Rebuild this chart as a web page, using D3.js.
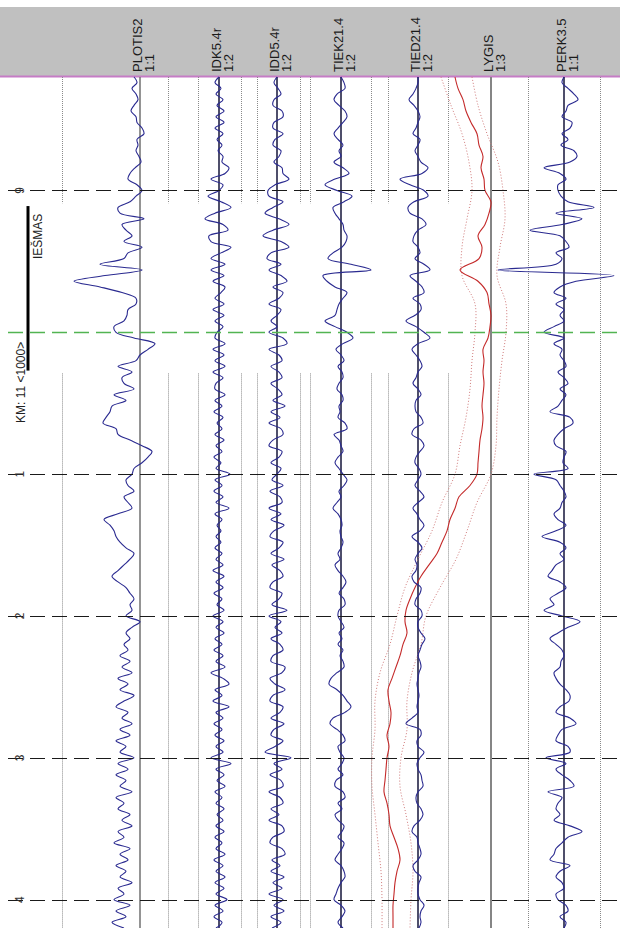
<!DOCTYPE html>
<html>
<head>
<meta charset="utf-8">
<script src="https://cdn.jsdelivr.net/npm/d3@7"></script>
<style>
  body { margin: 0; background: #fff; }
  svg { display: block; font-family: Arial, "Liberation Sans", sans-serif; }
</style>
</head>
<body>
<div class="track-chart"></div>
<script>
// channels and their scale ratios
const channels = ["PLOTIS2", "IDK5.4r", "IDD5.4r", "TIEK21.4", "TIED21.4", "LYGIS", "PERK3.5"];
const ratios = ["1:1", "1:2", "1:2", "1:2", "1:2", "1:3", "1:1"];

// distance marks (m from km 11 start)
const kmTicks = [-100, 100, 200, 300, 400];
const kmLabels = ["9", "1", "2", "3", "4"];
const kmStart = 0;
const kmTitle = "KM: 11 <1000>";
const switchName = "IEŠMAS";
const switchFrom = -89, switchTo = 27;

// samples every 4 m from -180 m
const plotis = [
  -6,-3,-8,-4,-2,-6,-9,-4,-3,2,
  4,-3,-2,-4,-1,1,-5,-10,-12,-3,
  2,-4,-10,-22,-20,4,-18,-14,-8,-16,
  2,-12,-16,-40,2,-35,-66,-40,-18,-4,
  -4,-12,-13,-16,-26,-24,-6,15,8,0,
  -4,-22,-8,-18,-16,-6,-26,-14,-28,-30,
  -34,-37,-24,-22,-10,2,12,8,2,-6,
  -8,-14,-12,-6,-16,-12,-8,-22,-36,-30,
  -26,-24,-20,-14,-6,-10,-16,-22,-28,-22,
  -14,-10,-6,-10,-8,-14,0,-8,-14,-10,
  -16,-12,-20,-10,-18,-8,-22,-12,-20,-6,
  -16,-24,-12,-18,-8,-20,-10,-24,-14,-20,
  -6,-22,-12,-24,-14,-20,-8,-24,-16,-22,
  -10,-18,-8,-22,-16,-26,-10,-20,-12,-24,
  -14,-20,-8,-22,-16,-26,-10,-24,-14,-28,
  -16
];
const idk = [
  0,-4,2,-3,4,-2,5,-3,5,-4,
  4,-2,3,-1,4,3,10,6,-8,4,
  0,-11,2,12,-4,-14,4,9,-10,-8,
  12,2,-8,6,-8,5,-6,6,2,-4,
  5,-6,5,-4,4,-2,-4,6,-6,5,
  -4,6,-6,4,-3,-4,6,-4,3,-5,
  4,-2,3,-4,5,-3,3,-5,2,-3,
  11,-4,3,-5,4,-3,10,-4,3,-2,
  2,-3,2,-4,3,-3,4,-6,5,-3,
  4,-5,3,-2,5,-6,4,-3,5,-4,
  3,-5,4,-3,6,-8,4,10,-4,3,
  -6,10,-3,4,-5,3,-4,5,-3,4,
  -8,12,-3,5,-2,6,-4,3,-3,5,
  -2,4,-3,5,-4,3,-3,6,-5,4,
  -3,6,-4,5,-3,8,-4,4,-5,3,
  -3
];
const idd = [
  0,-3,1,4,-3,-4,5,6,-3,-4,
  6,-2,-4,4,2,-3,5,6,12,-2,
  -9,-8,6,-4,-12,2,12,-4,-14,4,
  12,-6,-10,4,-8,4,10,-4,6,2,
  -8,4,0,-6,0,-8,6,10,-8,2,
  5,-6,2,5,-6,1,5,-4,8,-6,
  3,-8,4,6,-4,-8,5,2,-6,4,
  0,-5,6,-7,3,5,-8,4,-6,7,
  -3,-7,6,2,-6,7,-5,3,6,-4,
  -7,5,2,-5,10,-8,4,-2,5,-6,
  3,6,-4,-6,8,5,-7,-2,8,-4,
  -7,6,3,-6,7,-3,-6,6,-2,-12,
  14,-3,5,-7,4,6,-8,3,6,-6,
  2,-8,5,7,-4,-7,5,8,-5,3,
  -6,7,-4,5,-8,6,-3,7,-6,4,
  -5
];
const tiek = [
  0,3,4,-4,-7,-2,4,6,2,-3,
  -7,-3,2,-2,0,-7,2,8,-6,-16,
  -4,11,3,-8,-6,-2,2,3,6,5,
  1,-8,-13,10,30,-18,-14,-6,6,2,
  -2,-4,-6,-16,-6,6,12,2,-5,0,
  3,-3,1,2,-2,-4,1,2,-2,-1,
  -3,4,6,-7,-2,0,2,-3,-6,-2,
  2,6,3,-2,0,-4,-8,-3,0,1,
  -1,0,2,0,-3,-1,-6,-3,2,5,
  2,-2,3,4,-2,-3,0,3,-2,1,
  -3,2,-1,2,3,-4,-10,-12,-4,2,
  6,10,4,-8,-11,-4,2,4,-3,-1,
  3,1,-3,2,-5,-6,2,4,-3,1,
  -6,-3,3,1,-3,3,1,-3,-6,0,
  3,4,0,-3,-5,-7,0,4,1,-3,
  2
];
const tied = [
  0,0,-2,-5,-9,-4,0,2,0,-2,
  -5,2,0,-3,0,3,10,4,-18,-8,
  6,10,-4,-10,-8,4,8,0,-4,-5,
  0,2,-3,6,12,-8,-2,4,6,-5,
  2,3,-3,-12,-2,6,12,0,-6,-2,
  2,4,0,-2,-5,0,3,-2,-3,-2,
  3,5,-4,-6,3,6,2,-2,-3,1,
  3,0,-3,2,6,0,-5,-1,2,6,
  2,-6,0,4,0,-3,-1,-2,-6,-4,
  3,2,-2,-3,3,4,0,0,3,7,
  4,2,0,2,3,1,0,-1,0,1,
  0,-1,0,-6,-12,2,3,-1,0,6,
  2,-1,0,3,4,5,0,-2,-1,3,
  5,2,-4,-6,-1,0,2,3,0,-5,
  -3,3,1,0,0,2,6,3,2,3,
  1
];
const perk = [
  0,-2,4,10,14,4,2,-2,8,6,
  -2,4,-3,10,13,6,-20,-4,2,-6,
  -6,-3,4,30,-8,18,-2,-34,-4,2,
  5,-8,-2,-8,-66,50,12,-4,-10,2,
  -8,0,-4,0,-10,-20,0,-10,-2,-4,
  0,2,-6,0,4,-4,2,-2,-6,-14,
  6,9,0,-6,-10,-8,2,0,-1,4,
  -30,-8,-4,0,2,-2,-4,-10,-6,2,
  -8,-22,-4,2,-4,0,-8,-12,-16,-4,
  2,-6,-14,-10,-20,-2,16,4,-6,-14,
  -8,-2,0,-3,-4,-10,-8,-4,2,6,
  5,-4,-8,6,12,-2,-6,-8,4,6,
  -18,2,-8,-2,6,10,-16,-2,-6,-8,
  -4,-10,6,18,4,-2,-8,-10,-14,6,
  -4,-8,-2,0,-8,-6,2,4,-4,2,
  0
];

// LYGIS: mean every 8 m, limits every 20 m
const lygis = [
  -36,-33,-28,-25,-20,-14,-12,-8,-10,-7,
  -6,0,-2,-6,-13,-9,-12,-31,-13,-4,
  -2,0,-1,-3,-8,-7,-8,-7,-8,-9,
  -8,-9,-11,-12,-13,-14,-21,-32,-36,-41,
  -44,-49,-54,-62,-70,-76,-81,-85,-86,-84,
  -88,-91,-95,-99,-103,-102,-100,-101,-104,-102,
  -104,-105,-106,-107,-104,-102,-101,-97,-93,-91,
  -94,-96,-97,-98,-98,-98
];
const lygisLow = [
  -50,-40,-29,-22,-19,-24,-29,-29,-16,-16,
  -19,-21,-25,-31,-36,-49,-59,-73,-86,-94,
  -101,-111,-116,-116,-119,-119,-116,-113,-110,-109,
  -109
];
const lygisHigh = [
  -19,-13,-4,7,12,14,9,6,15,15,
  11,8,6,5,0,-14,-24,-35,-51,-65,
  -70,-79,-84,-84,-90,-91,-85,-80,-78,-80,
  -81
];

// layout
const width = 620, height = 928;
const plotTop = 77;
const startM = -180, endM = 420;
const columnX = [140, 219, 277, 341, 418, 491, 564];
const gridX = [62, 168, 198, 241, 257, 300, 310, 371, 388, 448, 528, 600];
const gridFull = [528, 600];

const svg = d3.select(".track-chart")
  .append("svg")
    .attr("width", width)
    .attr("height", height);

const y = d3.scaleLinear().domain([startM, endM]).range([plotTop, height]);

// header band
svg.append("rect")
  .attr("x", 0).attr("y", 7)
  .attr("width", width).attr("height", plotTop - 7)
  .attr("fill", "#c0c0c0");
svg.append("line")
  .attr("x1", 0).attr("x2", width)
  .attr("y1", plotTop - 0.5).attr("y2", plotTop - 0.5)
  .attr("stroke", "#c57cc5")
  .attr("stroke-width", 2);

// vertical dotted grid, broken over the switch
const grid = svg.append("g").attr("class", "grid");
gridX.forEach((gx) => {
  const segs = gridFull.includes(gx)
    ? [[startM, endM]]
    : [[startM, switchFrom - 2], [switchTo + 2, endM]];
  segs.forEach((s) => {
    grid.append("line")
      .attr("x1", gx + 0.5).attr("x2", gx + 0.5)
      .attr("y1", y(s[0])).attr("y2", y(s[1]))
      .attr("stroke", "#8a8a8a")
      .attr("stroke-dasharray", "1,1");
  });
});

// channel axis lines
const axisColor = ["#707070", "#15153a", "#15153a", "#15153a", "#15153a", "#858585", "#15153a"];
svg.append("g").attr("class", "axes")
  .selectAll("line")
    .data(columnX).enter()
  .append("line")
    .attr("x1", (d) => d).attr("x2", (d) => d)
    .attr("y1", plotTop).attr("y2", height)
    .attr("stroke", (d, i) => axisColor[i])
    .attr("stroke-width", (d, i) => i === 5 ? 2 : 1.5);

// channel scales
const xScales = columnX.map((cx) => d3.scaleLinear().domain([-100, 100]).range([cx - 100, cx + 100]));

function trace(values, stepM, xs) {
  return d3.line()
    .x((v) => xs(v))
    .y((v, i) => y(startM + i * stepM))
    .curve(d3.curveCatmullRom.alpha(0.5))(values);
}

const traces = svg.append("g").attr("class", "traces");

// LYGIS limits and mean
[lygisLow, lygisHigh].forEach((vals) => {
  traces.append("path")
    .attr("d", trace(vals, 20, xScales[5]))
    .attr("fill", "none")
    .attr("stroke", "#d07a7a")
    .attr("stroke-width", 1)
    .attr("stroke-dasharray", "1,2");
});
traces.append("path")
  .attr("d", trace(lygis, 8, xScales[5]))
  .attr("fill", "none")
  .attr("stroke", "#c42a2a")
  .attr("stroke-width", 1.1);

// blue traces
const blueSeries = [
  { values: plotis, col: 0 },
  { values: idk, col: 1 },
  { values: idd, col: 2 },
  { values: tiek, col: 3 },
  { values: tied, col: 4 },
  { values: perk, col: 6 }
];
traces.selectAll(".sig")
    .data(blueSeries).enter()
  .append("path")
    .attr("class", "sig")
    .attr("d", (d) => trace(d.values, 4, xScales[d.col]))
    .attr("fill", "none")
    .attr("stroke", "#2a2a90")
    .attr("stroke-width", 1.1);

// km dashed lines
const marks = svg.append("g").attr("class", "km");
marks.selectAll(".tick")
    .data(kmTicks).enter()
  .append("line")
    .attr("class", "tick")
    .attr("x1", 8).attr("x2", width)
    .attr("y1", (d) => Math.round(y(d)) + 0.5)
    .attr("y2", (d) => Math.round(y(d)) + 0.5)
    .attr("stroke", "#1a1a1a")
    .attr("stroke-width", 1.2)
    .attr("stroke-dasharray", "15,7");
marks.append("line")
  .attr("x1", 8).attr("x2", width)
  .attr("y1", Math.round(y(kmStart)) + 0.5)
  .attr("y2", Math.round(y(kmStart)) + 0.5)
  .attr("stroke", "#52b452")
  .attr("stroke-width", 1.5)
  .attr("stroke-dasharray", "15,7");

marks.selectAll(".lbl")
    .data(kmTicks).enter()
  .append("text")
    .attr("class", "lbl")
    .attr("transform", (d) => `translate(24, ${y(d)}) rotate(-90)`)
    .attr("text-anchor", "middle")
    .attr("font-size", 12)
    .attr("fill", "#333")
    .text((d, i) => kmLabels[i]);

// switch marker
svg.append("line")
  .attr("x1", 28).attr("x2", 28)
  .attr("y1", y(switchFrom)).attr("y2", y(switchTo))
  .attr("stroke", "#000")
  .attr("stroke-width", 3);
svg.append("text")
  .attr("transform", `translate(42, ${y((switchFrom + switchTo) / 2) - 52}) rotate(-90)`)
  .attr("text-anchor", "middle")
  .attr("font-size", 12)
  .attr("fill", "#222")
  .text(switchName);
svg.append("text")
  .attr("transform", `translate(25, 423) rotate(-90)`)
  .attr("font-size", 12)
  .attr("fill", "#222")
  .text(kmTitle);

// header labels
const heads = svg.append("g").attr("class", "heads")
  .selectAll("g")
    .data(channels).enter()
  .append("g");
heads.append("text")
  .attr("transform", (d, i) => `translate(${columnX[i] + 2}, 72) rotate(-90)`)
  .attr("font-size", 13)
  .attr("fill", "#1a1a1a")
  .text((d) => d);
heads.append("text")
  .attr("transform", (d, i) => `translate(${columnX[i] + 14}, 72) rotate(-90)`)
  .attr("font-size", 13)
  .attr("fill", "#1a1a1a")
  .text((d, i) => ratios[i]);
</script>
</body>
</html>
